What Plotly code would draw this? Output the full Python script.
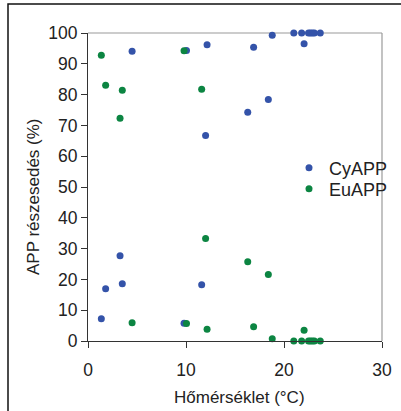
import plotly.graph_objects as go

# Water temperature (°C) of each sample
temperature = [1.36, 1.8, 3.27, 3.5, 4.5, 9.8, 10.05, 11.6, 12.0, 12.15,
               16.3, 16.9, 18.4, 18.8, 21.0, 21.8, 22.05, 22.5, 22.7, 22.9,
               23.1, 23.7]
# Share of CyAPP and EuAPP in the picoplankton (%)
cy_app = [7.2, 17.0, 27.7, 18.6, 94.1, 5.8, 94.3, 18.3, 66.7, 96.2,
          74.3, 95.4, 78.4, 99.3, 100.0, 100.0, 96.5, 100.0, 100.0, 100.0,
          100.0, 100.0]
eu_app = [92.8, 83.0, 72.3, 81.4, 5.9, 94.2, 5.7, 81.7, 33.3, 3.8,
          25.7, 4.6, 21.6, 0.7, 0.0, 0.0, 3.5, 0.0, 0.0, 0.0,
          0.0, 0.0]

series_names = ["CyAPP", "EuAPP"]
series_colors = ["#3453A9", "#0C8542"]
x_ticks = [0, 10, 20, 30]
y_ticks = list(range(0, 101, 10))

FONT = "Liberation Sans, Arial, sans-serif"
TXT = "#222222"

W, H = 401, 411
L, R, T, B = 88, 19, 33, 70
pw, ph = W - L - R, H - T - B


def px_x(p):
    return (p - L) / pw


def px_y(p):
    return (H - B - p) / ph


fig = go.Figure()
legend_ids = ["legend", "legend2"]
legend_rows = [168, 189]
for name, vals, col, lg in zip(series_names, [cy_app, eu_app], series_colors, legend_ids):
    fig.add_trace(go.Scatter(
        x=temperature, y=vals, mode="markers", name=name, legend=lg,
        marker=dict(color=col, size=7, line=dict(width=0)),
        cliponaxis=False,
    ))

axis_common = dict(showgrid=False, zeroline=False, automargin=False,
                   showline=True, linecolor="#333333", linewidth=1.2,
                   ticks="outside", ticklen=6, tickcolor="#333333",
                   tickfont=dict(size=17.5, color=TXT))


def legend_box(row):
    return dict(x=px_x(289), y=px_y(row), xanchor="left", yanchor="middle",
                bgcolor="rgba(0,0,0,0)", font=dict(size=18, color=TXT),
                itemwidth=30)


fig.update_layout(
    width=W, height=H,
    margin=dict(l=L, r=R, t=T, b=B, autoexpand=False),
    paper_bgcolor="white", plot_bgcolor="white",
    font=dict(family=FONT, size=16, color=TXT),
    showlegend=True,
    legend=legend_box(legend_rows[0]),
    legend2=legend_box(legend_rows[1]),
    xaxis=dict(range=[0, 30], tickvals=x_ticks, ticklabelstandoff=7, **axis_common),
    yaxis=dict(range=[0, 100], tickvals=y_ticks, **axis_common),
    annotations=[
        dict(text="Hőmérséklet (°C)", xref="paper", yref="paper",
             x=px_x(239), y=px_y(397), xanchor="center", yanchor="middle",
             showarrow=False, font=dict(size=17, color=TXT)),
        dict(text="APP részesedés (%)", xref="paper", yref="paper",
             x=px_x(33), y=px_y(196), xanchor="center", yanchor="middle",
             textangle=-90, showarrow=False, font=dict(size=17, color=TXT)),
    ],
    shapes=[
        # grey top and right edges of the plot area
        dict(type="line", xref="paper", yref="paper", x0=0, x1=1, y0=1, y1=1,
             line=dict(color="#9a9a9a", width=1.2), layer="below"),
        dict(type="line", xref="paper", yref="paper", x0=1, x1=1, y0=0, y1=1,
             line=dict(color="#9a9a9a", width=1.2), layer="below"),
        # outer frame around the whole figure
        dict(type="rect", xref="paper", yref="paper",
             x0=px_x(8), x1=px_x(W + 10), y0=px_y(H + 10), y1=px_y(4),
             line=dict(color="#111111", width=1.5), fillcolor="rgba(0,0,0,0)"),
    ],
)

fig.write_html("out.html")
